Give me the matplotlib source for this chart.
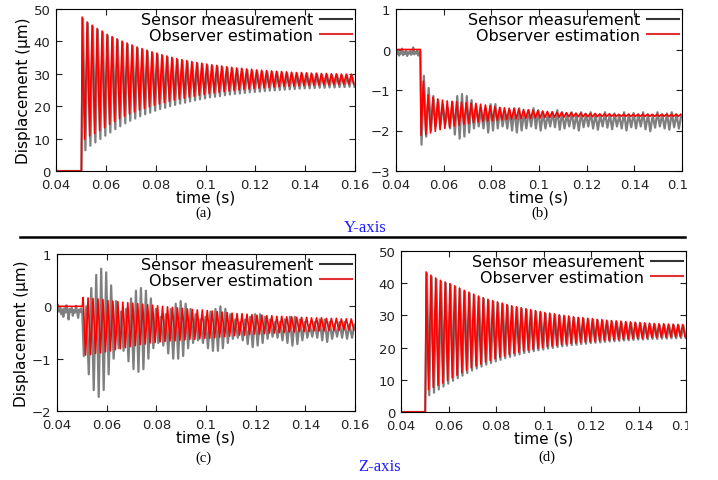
import numpy as np
import matplotlib
matplotlib.use("Agg")
import matplotlib.pyplot as plt
from matplotlib.lines import Line2D
from matplotlib.patches import Rectangle

# ---- data (peak values of each oscillation cycle) ----
HALF = 0.001          # half period of the oscillation (s)
T_STEP = 0.0502       # time of the step input

# (a) Y-axis, fixed-end
a_obs_max = [47.5, 46.0, 45.0, 44.0, 43.2, 42.2, 41.5, 40.8, 40.1, 39.5, 38.9, 38.3, 37.8, 37.3,
             36.8, 36.4, 35.9, 35.5, 35.1, 34.7, 34.4, 34.1, 33.8, 33.5, 33.3, 33.0, 32.8, 32.6,
             32.4, 32.2, 32.0, 31.8, 31.7, 31.5, 31.4, 31.2, 31.1, 31.0, 30.9, 30.8, 30.7, 30.6,
             30.5, 30.4, 30.4, 30.3, 30.2, 30.2, 30.1, 30.1, 30.0, 30.0, 29.9, 29.9, 29.9]
a_obs_min = [9.8, 10.8, 11.6, 12.5, 13.4, 14.4, 15.3, 16.1, 16.9, 17.6, 18.2, 18.8, 19.3, 19.8,
             20.3, 20.7, 21.1, 21.5, 21.9, 22.2, 22.5, 22.8, 23.1, 23.4, 23.6, 23.9, 24.1, 24.3,
             24.5, 24.7, 24.9, 25.0, 25.2, 25.3, 25.5, 25.6, 25.7, 25.8, 25.9, 26.0, 26.1, 26.2,
             26.2, 26.3, 26.4, 26.4, 26.5, 26.5, 26.6, 26.6, 26.7, 26.7, 26.8, 26.8, 26.8]
a_sen_max = [47.0, 45.6, 44.6, 43.6, 42.8, 41.8, 41.1, 40.4, 39.7, 39.1, 38.5, 37.9, 37.4, 36.9,
             36.4, 36.0, 35.5, 35.1, 34.7, 34.3, 34.0, 33.7, 33.4, 33.1, 32.9, 32.6, 32.4, 32.2,
             32.0, 31.8, 31.6, 31.4, 31.3, 31.1, 31.0, 30.8, 30.7, 30.6, 30.5, 30.4, 30.3, 30.2,
             30.1, 30.0, 30.0, 29.9, 29.8, 29.8, 29.7, 29.7, 29.6, 29.6, 29.5, 29.5, 29.5]
a_sen_min = [6.4, 7.8, 8.8, 9.9, 10.9, 11.9, 12.9, 13.8, 14.7, 15.5, 16.2, 16.9, 17.5, 18.0,
             18.6, 19.1, 19.5, 20.0, 20.4, 20.8, 21.1, 21.5, 21.8, 22.1, 22.4, 22.7, 22.9, 23.1,
             23.4, 23.6, 23.8, 23.9, 24.1, 24.3, 24.4, 24.5, 24.7, 24.8, 24.9, 25.0, 25.1, 25.2,
             25.3, 25.4, 25.5, 25.5, 25.6, 25.7, 25.7, 25.8, 25.8, 25.9, 25.9, 26.0, 26.0]

# (b) Y-axis, free-end
b_obs_min = [-2.12, -2.10, -2.06, -2.02, -1.98, -1.95, -1.92, -1.89, -1.87, -1.85, -1.83, -1.81,
             -1.79, -1.78, -1.77, -1.76, -1.75, -1.74, -1.73, -1.72, -1.71, -1.71, -1.70, -1.70,
             -1.69, -1.69, -1.68, -1.68, -1.67, -1.67, -1.67, -1.66, -1.66, -1.66, -1.66, -1.66,
             -1.66, -1.66, -1.65, -1.65, -1.65, -1.65, -1.65, -1.65, -1.65, -1.65, -1.65, -1.65,
             -1.65, -1.65, -1.65, -1.65, -1.65, -1.65, -1.65]
b_obs_max = [-0.78, -1.12, -1.18, -1.22, -1.25, -1.27, -1.28, -1.29, -1.30, -1.31, -1.32, -1.33,
             -1.35, -1.37, -1.39, -1.41, -1.43, -1.44, -1.45, -1.46, -1.47, -1.48, -1.49, -1.50,
             -1.51, -1.52, -1.53, -1.54, -1.55, -1.55, -1.56, -1.56, -1.57, -1.57, -1.58, -1.58,
             -1.58, -1.59, -1.59, -1.59, -1.60, -1.60, -1.60, -1.60, -1.60, -1.60, -1.60, -1.60,
             -1.60, -1.60, -1.60, -1.60, -1.60, -1.60, -1.60]
b_sen_min = [-2.35, -2.15, -2.00, -1.90, -1.85, -1.85, -1.95, -2.10, -2.20, -2.15, -2.05, -1.95,
             -1.90, -1.95, -2.05, -2.00, -1.95, -1.90, -1.95, -2.00, -2.05, -2.00, -1.95, -1.90,
             -1.95, -2.00, -1.95, -1.90, -1.92, -1.98, -1.95, -1.90, -1.95, -2.00, -1.92, -1.90,
             -1.95, -1.98, -1.90, -1.93, -1.97, -1.90, -1.95, -2.00, -1.92, -1.95, -1.90, -1.97,
             -2.02, -1.93, -1.90, -1.95, -1.98, -1.92, -1.95]
b_sen_max = [-0.65, -0.95, -1.15, -1.25, -1.35, -1.45, -1.30, -1.15, -1.10, -1.15, -1.25, -1.40,
             -1.50, -1.45, -1.35, -1.35, -1.45, -1.55, -1.50, -1.45, -1.45, -1.55, -1.50, -1.45,
             -1.50, -1.55, -1.60, -1.55, -1.50, -1.55, -1.60, -1.55, -1.60, -1.55, -1.60, -1.55,
             -1.60, -1.62, -1.55, -1.60, -1.58, -1.62, -1.55, -1.60, -1.57, -1.60, -1.55, -1.60,
             -1.62, -1.55, -1.60, -1.58, -1.55, -1.60, -1.62]
b_sen_pre = [-0.05, -0.12, -0.02, -0.15, -0.08, -0.10, 0.02, -0.14, -0.06, -0.11, -0.03, -0.16,
             -0.07, -0.10, -0.04, -0.13, -0.09, 0.05, -0.12, -0.06, -0.10, -0.02, -0.15, -0.08,
             -0.05]

# (c) Z-axis, fixed-end
c_obs_max = [0.17, 0.16, 0.15, 0.14, 0.13, 0.11, 0.10, 0.09, 0.08, 0.07, 0.06, 0.05, 0.04, 0.03,
             0.02, 0.01, 0.00, -0.01, -0.02, -0.03, -0.04, -0.05, -0.06, -0.07, -0.07, -0.08,
             -0.09, -0.10, -0.11, -0.12, -0.13, -0.14, -0.14, -0.15, -0.16, -0.17, -0.17, -0.18,
             -0.18, -0.19, -0.19, -0.20, -0.20, -0.21, -0.21, -0.21, -0.22, -0.22, -0.22, -0.23,
             -0.23, -0.23, -0.24, -0.24, -0.24]
c_obs_min = [-0.93, -0.92, -0.90, -0.89, -0.87, -0.85, -0.83, -0.81, -0.79, -0.77, -0.75, -0.73,
             -0.72, -0.70, -0.69, -0.68, -0.67, -0.66, -0.66, -0.65, -0.64, -0.63, -0.63, -0.62,
             -0.61, -0.61, -0.60, -0.59, -0.58, -0.57, -0.56, -0.55, -0.55, -0.54, -0.53, -0.53,
             -0.52, -0.51, -0.51, -0.50, -0.50, -0.49, -0.49, -0.48, -0.48, -0.48, -0.47, -0.47,
             -0.47, -0.46, -0.46, -0.46, -0.45, -0.45, -0.45]
c_sen_min = [-0.95, -1.30, -1.60, -1.73, -1.60, -1.30, -1.00, -0.80, -0.85, -1.05, -1.20, -1.25,
             -1.20, -1.00, -0.80, -0.70, -0.75, -0.90, -1.00, -1.00, -0.95, -0.80, -0.70, -0.65,
             -0.70, -0.80, -0.85, -0.85, -0.80, -0.70, -0.62, -0.60, -0.65, -0.72, -0.78, -0.75,
             -0.70, -0.62, -0.58, -0.60, -0.65, -0.70, -0.75, -0.72, -0.65, -0.60, -0.58, -0.60,
             -0.65, -0.68, -0.62, -0.58, -0.60, -0.62, -0.60]
c_sen_max = [0.00, 0.35, 0.60, 0.72, 0.65, 0.40, 0.10, -0.10, -0.05, 0.15, 0.30, 0.35, 0.30, 0.15,
             -0.05, -0.20, -0.15, -0.05, 0.05, 0.10, 0.05, -0.05, -0.15, -0.25, -0.20, -0.10,
             -0.05, 0.00, -0.05, -0.15, -0.25, -0.30, -0.25, -0.20, -0.15, -0.15, -0.20, -0.25,
             -0.30, -0.30, -0.25, -0.20, -0.20, -0.25, -0.30, -0.35, -0.30, -0.25, -0.25, -0.30,
             -0.35, -0.30, -0.30, -0.35, -0.35]
c_sen_pre = [-0.05, 0.03, -0.10, -0.02, -0.15, -0.06, -0.20, -0.04, -0.12, 0.02, -0.08, -0.25,
             -0.05, -0.10, -0.03, -0.18, -0.07, -0.12, 0.01, -0.09, -0.22, -0.06, -0.11, -0.04,
             -0.14]

# (d) Z-axis, free-end
d_obs_max = [43.5, 42.5, 41.6, 40.9, 40.4, 39.9, 39.2, 38.5, 37.8, 37.2, 36.6, 36.0, 35.5, 35.0,
             34.6, 34.2, 33.8, 33.4, 33.0, 32.7, 32.4, 32.1, 31.8, 31.5, 31.2, 30.9, 30.7, 30.5,
             30.2, 30.0, 29.8, 29.6, 29.4, 29.3, 29.1, 29.0, 28.8, 28.7, 28.5, 28.4, 28.3, 28.2,
             28.1, 28.0, 27.9, 27.8, 27.7, 27.6, 27.5, 27.4, 27.4, 27.3, 27.3, 27.2, 27.2]
d_obs_min = [7.0, 7.6, 8.3, 9.0, 9.8, 10.6, 11.4, 12.2, 13.0, 13.7, 14.3, 14.9, 15.5, 16.0, 16.5,
             17.0, 17.4, 17.8, 18.2, 18.6, 18.9, 19.2, 19.5, 19.8, 20.0, 20.3, 20.5, 20.7, 20.9,
             21.1, 21.3, 21.4, 21.6, 21.7, 21.8, 22.0, 22.1, 22.2, 22.3, 22.4, 22.5, 22.6, 22.7,
             22.8, 22.9, 22.9, 23.0, 23.1, 23.1, 23.2, 23.2, 23.3, 23.3, 23.4, 23.4]
d_sen_max = [43.0, 42.0, 41.2, 40.5, 40.0, 39.5, 38.8, 38.1, 37.4, 36.8, 36.2, 35.6, 35.1, 34.6,
             34.2, 33.8, 33.4, 33.0, 32.6, 32.3, 32.0, 31.7, 31.4, 31.1, 30.8, 30.5, 30.3, 30.1,
             29.8, 29.6, 29.4, 29.2, 29.0, 28.9, 28.7, 28.6, 28.4, 28.3, 28.1, 28.0, 27.9, 27.8,
             27.7, 27.6, 27.5, 27.4, 27.3, 27.2, 27.1, 27.0, 27.0, 26.9, 26.9, 26.8, 26.8]
d_sen_min = [5.2, 6.0, 7.0, 7.9, 8.8, 9.7, 10.5, 11.3, 12.1, 12.9, 13.5, 14.1, 14.7, 15.2, 15.7,
             16.2, 16.7, 17.1, 17.5, 17.9, 18.3, 18.6, 18.9, 19.2, 19.4, 19.7, 19.9, 20.2, 20.4,
             20.6, 20.8, 20.9, 21.1, 21.2, 21.4, 21.5, 21.6, 21.8, 21.9, 22.0, 22.1, 22.2, 22.3,
             22.4, 22.5, 22.5, 22.6, 22.7, 22.7, 22.8, 22.8, 22.9, 22.9, 23.0, 23.0]

x_ticks = [0.04, 0.06, 0.08, 0.1, 0.12, 0.14, 0.16]
x_labels = ["0.04", "0.06", "0.08", "0.1", "0.12", "0.14", "0.16"]

GRAY = "#7f7f7f"
RED = "#ff0000"
W, H = 718, 481


def signal(first, second, pre, t0):
    """pre-step samples, then the zigzag through the cycle peaks"""
    n_pre = len(pre)
    t_pre = np.linspace(0.04, T_STEP, n_pre)
    peaks = np.column_stack([first, second]).ravel()
    t_pk = t0 + np.arange(len(peaks)) * HALF
    return np.concatenate([t_pre, t_pk]), np.concatenate([pre, peaks])


def panel(rect, obs, sen, yticks, ylim, ylabel=False):
    l, r, t, b = rect
    ax = fig.add_axes([l / W, 1 - b / H, (r - l) / W, (b - t) / H])
    ts, ys = sen
    to, yo = obs
    ax.plot(ts, ys, color=GRAY, lw=1.6)
    ax.plot(to, yo, color=RED, lw=1.2)
    ax.set_xlim(0.04, 0.16)
    ax.set_ylim(*ylim)
    ax.set_xticks(x_ticks)
    ax.set_xticklabels(x_labels)
    ax.set_yticks(yticks)
    ax.tick_params(direction="in", top=True, right=True, length=4, labelsize=9.5,
                   colors="#222222")
    ax.tick_params(axis="x", pad=5)
    ax.tick_params(axis="y", pad=4)
    ax.set_xlabel("time (s)", fontsize=11, labelpad=-1)
    if ylabel:
        ax.set_ylabel("Displacement (μm)", fontsize=11, labelpad=2)
    handles = [Line2D([], [], color="#333333", lw=1.5), Line2D([], [], color="#e03030", lw=1.5)]
    ax.legend(handles, ["Sensor measurement", "Observer estimation"], loc="upper right",
              frameon=False, markerfirst=False, fontsize=11.5, handlelength=2.0,
              handletextpad=0.4, labelspacing=0.05, borderaxespad=0.1, borderpad=0.1)
    return ax


fig = plt.figure(figsize=(W / 100, H / 100), dpi=100)

zeros = [0.0, 0.0]
panel((56, 355, 10, 172),
      signal(a_obs_max, a_obs_min, zeros, 0.0505),
      signal(a_sen_max, a_sen_min, zeros, 0.0508),
      [0, 10, 20, 30, 40, 50], (0, 50), ylabel=True)
panel((396, 682, 10, 172),
      signal(b_obs_min, b_obs_max, zeros, 0.0505),
      signal(b_sen_min, b_sen_max, b_sen_pre, 0.0507),
      [-3, -2, -1, 0, 1], (-3, 1))
panel((57, 355, 255, 412),
      signal(c_obs_max, c_obs_min, zeros, 0.0505),
      signal(c_sen_min, c_sen_max, c_sen_pre, 0.0508),
      [-2, -1, 0, 1], (-2, 1), ylabel=True)
panel((401, 686, 252, 413),
      signal(d_obs_max, d_obs_min, zeros, 0.0506),
      signal(d_sen_max, d_sen_min, zeros, 0.0509),
      [0, 10, 20, 30, 40, 50], (0, 50))

# sub-captions and group titles
serif = "Liberation Serif"
for x, y, s in [(203, 213, "(a)"), (540, 213, "(b)"), (203, 458, "(c)"), (547, 457, "(d)")]:
    fig.text(x / W, 1 - y / H, s, ha="center", va="center", fontsize=10.5, family=serif)
fig.text(365 / W, 1 - 228 / H, "Y-axis", ha="center", va="center", fontsize=12,
         family=serif, color="#1a1aff")
fig.text(380 / W, 1 - 467 / H, "Z-axis", ha="center", va="center", fontsize=12,
         family=serif, color="#1a1aff")

# separator line between the two rows
fig.add_artist(Line2D([20 / W, 685 / W], [1 - 238 / H, 1 - 238 / H], color="black", lw=1.8))

# the right-hand pictures are cut off in the original
fig.add_artist(Rectangle((688 / W, 0), 1, 1, transform=fig.transFigure, color="white", zorder=10))

fig.savefig("out.png", dpi=100)
